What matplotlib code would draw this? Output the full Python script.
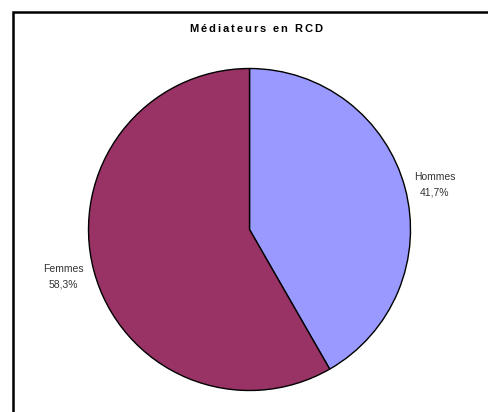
import matplotlib
matplotlib.use("Agg")
from matplotlib import pyplot as plt
from matplotlib.patches import Rectangle

# donnees
labels = ["Hommes", "Femmes"]
parts = [41.7, 58.3]
colors = ["#9999FF", "#993366"]
title = "Médiateurs en RCD"

W, H = 488, 412
fig = plt.figure(figsize=(W/100, H/100), dpi=100)
ax = fig.add_axes([0, 0, 1, 1])

# cadre (coupe a droite et en bas)
ax.add_patch(Rectangle((12.5, -20), 600, H - 11.5 + 20, fill=False, lw=1.8, ec="black"))

cx, cy, r = 249.5, H - 229.5, 161
wedges, _ = ax.pie(parts, colors=colors, startangle=90, counterclock=False,
                   center=(cx, cy), radius=r, frame=True,
                   wedgeprops=dict(edgecolor="black", linewidth=1.0))
ax.set_xlim(0, W)
ax.set_ylim(0, H)
ax.axis('off')

lab_kw = dict(ha="center", va="center", fontsize=7.5, family="Liberation Sans",
              linespacing=1.7, color="#333333")
ax.text(435, H - 185, "%s\n%s%%" % (labels[0], str(parts[0]).replace('.', ',')), **lab_kw)
ax.text(63, H - 277, "%s\n%s%%" % (labels[1], str(parts[1]).replace('.', ',')), **lab_kw)

# titre avec espacement des lettres
tkw = dict(fontsize=8, fontweight="bold", family="Liberation Sans", va="center", ha="left")
renderer = fig.canvas.get_renderer()
def largeur(s):
    t = ax.text(0, 0, s, **tkw)
    w = t.get_window_extent(renderer).width
    t.remove()
    return w
ref = largeur("|")
gap = 1.9
total = largeur(title) + gap * (len(title) - 1)
x0 = 256 - total / 2
for i, ch in enumerate(title):
    if ch == " ":
        continue
    x = x0 + (largeur(title[:i] + "|") - ref if i > 0 else 0) + gap * i
    ax.text(x, H - 29, ch, **tkw)

fig.savefig("out.png", dpi=100)
